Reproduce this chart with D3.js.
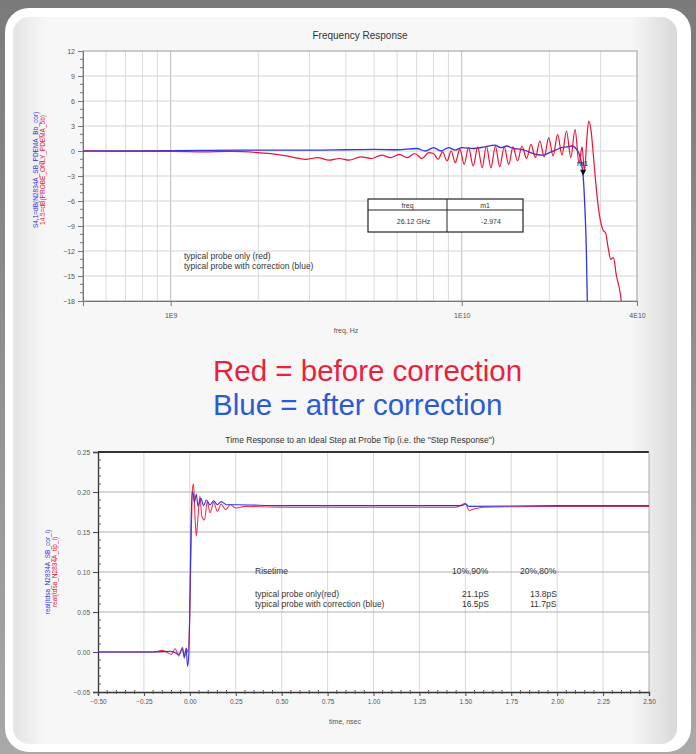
<!DOCTYPE html>
<html><head><meta charset="utf-8">
<script src="https://cdn.jsdelivr.net/npm/d3@7"></script>
<style>
html,body{margin:0;padding:0;background:#8f8f8f;}
svg{display:block;font-family:"Liberation Sans",Arial,sans-serif;}
</style></head><body>
<svg id="c" width="696" height="754"></svg>
<script>
// ---------- DATA ----------
// Top chart: frequency response (GHz, dB)
const redFreqGHz = [0.5,0.7,1.0,1.3,1.6,2.0,2.3,2.6,2.9,3.2,3.5,3.8,4.1,4.5,4.9,5.3,5.7,6.1,6.5,6.9,7.3,7.7,
  8.0,8.3,8.6,8.9,9.2,9.5,9.85,10.2,10.55,10.95,11.35,11.75,12.15,12.6,13.05,13.5,14.0,14.5,15.0,15.55,16.1,16.7,17.3,17.9,
  18.55,19.2,19.9,20.6,21.35,22.1,22.9,23.7,24.5,25.3,25.9,26.4,26.9,27.3,27.8,28.4,28.9,29.4,30.0,30.6,31.2,31.8,32.5,33.2,34.0,34.8,35.5];
const redDb = [0.0,-0.05,-0.05,-0.1,-0.05,-0.2,-0.4,-0.7,-1.0,-0.8,-1.1,-0.9,-1.1,-0.7,-0.9,-0.5,-0.8,-0.4,-0.8,-0.3,-0.9,-0.2,
  -0.3,-1.0,-0.1,-1.2,0.0,-1.4,0.2,-1.6,0.4,-1.8,0.5,-2.0,0.6,-2.0,0.6,-1.9,0.5,-1.6,0.5,-1.2,0.6,-0.9,0.8,-0.8,
  1.2,-0.7,1.6,-0.6,2.0,-0.5,2.4,-0.8,2.6,-1.5,0.5,-2.4,1.5,3.6,2.5,-1.0,-4.0,-6.5,-8.5,-9.5,-9.8,-11.5,-13.0,-12.8,-15.0,-16.5,-18.5];
const blueFreqGHz = [0.5,1,2,3,4,5,6,7,7.5,8,8.5,9,9.5,10,11,12,13,13.6,14.3,15,16,17,18,19,20,21,22,23,24,24.8,25.4,26.12,26.5,26.8,27.0,27.1];
const blueDb = [0,0.05,0.1,0.1,0.15,0.2,0.15,0.3,0.0,0.4,0.0,0.4,0.1,0.4,0.3,0.5,0.7,0.4,0.6,0.3,0.2,-0.1,-0.4,-0.5,-0.2,0.1,0.4,0.5,0.6,0.2,-0.5,-2.974,-7,-12,-18,-19];
const topYTicks = [12,9,6,3,0,-3,-6,-9,-12,-15,-18];
const topXTicks = [1e9,1e10,4e10];
const topXTickLabels = ["1E9","1E10","4E10"];
const markerFreqGHz = 26.12, markerDb = -2.974;
const markerTable = [["freq","m1"],["26.12 GHz","-2.974"]];
const topLegend = ["typical probe only (red)","typical probe with correction (blue)"];

// Bottom chart: step response (ns, V)
const redT = [-0.5,-0.3,-0.2,-0.15,-0.1,-0.08,-0.06,-0.04,-0.03,-0.02,-0.01,0.0,0.008,0.015,0.02,0.028,0.035,0.045,0.055,0.065,0.08,0.095,0.11,0.13,0.15,0.17,0.195,0.22,0.25,0.3,0.5,1.0,1.45,1.48,1.5,1.52,1.55,1.6,2.0,2.5];
const redV = [0.0,0.0,0.0,0.002,-0.003,0.004,-0.005,0.006,-0.008,0.005,0.0,0.05,0.15,0.205,0.21,0.17,0.145,0.17,0.195,0.17,0.165,0.188,0.174,0.187,0.176,0.185,0.178,0.184,0.18,0.182,0.181,0.181,0.181,0.184,0.186,0.177,0.179,0.181,0.182,0.182];
const blueT = [-0.5,-0.3,-0.2,-0.1,-0.06,-0.04,-0.03,-0.02,-0.012,-0.005,0.0,0.006,0.012,0.018,0.025,0.035,0.045,0.06,0.075,0.09,0.11,0.13,0.15,0.17,0.2,0.25,0.5,1.0,1.48,1.5,1.52,2.0,2.5];
const blueV = [0.0,0.0,0.0,0.001,-0.003,0.004,-0.006,0.004,-0.018,0.0,0.06,0.15,0.2,0.198,0.187,0.197,0.182,0.192,0.183,0.19,0.184,0.189,0.184,0.188,0.184,0.184,0.183,0.183,0.183,0.185,0.182,0.183,0.183];
const botYTicks = [0.25,0.20,0.15,0.10,0.05,0.00,-0.05];
const botXTicks = [-0.5,-0.25,0,0.25,0.5,0.75,1.0,1.25,1.5,1.75,2.0,2.25,2.5];
const riseHeader = ["Risetime","10%,90%","20%,80%"];
const riseRows = [["typical probe only(red)","21.1pS","13.8pS"],["typical probe with correction (blue)","16.5pS","11.7pS"]];

const RED = "#ee1133", BLUE = "#3232e6";

// ---------- FRAME ----------
const svg = d3.select("#c");
const defs = svg.append("defs");
const bg = defs.append("linearGradient").attr("id","bg").attr("x1",0).attr("y1",0).attr("x2",0).attr("y2",1);
bg.append("stop").attr("offset","0").attr("stop-color","#7a7a7a");
bg.append("stop").attr("offset","1").attr("stop-color","#a8a8a8");
svg.append("rect").attr("width",696).attr("height",754).attr("fill","url(#bg)");
svg.append("rect").attr("x",5).attr("y",8).attr("width",686).attr("height",744).attr("rx",24).attr("fill","#ffffff");
const inner = defs.append("linearGradient").attr("id","inner").attr("x1",0).attr("y1",0).attr("x2",1).attr("y2",0);
inner.append("stop").attr("offset","0").attr("stop-color","#e4e4e4");
inner.append("stop").attr("offset","0.05").attr("stop-color","#f7f7f7");
inner.append("stop").attr("offset","0.93").attr("stop-color","#f7f7f7");
inner.append("stop").attr("offset","1").attr("stop-color","#d8d8d8");
svg.append("rect").attr("x",13).attr("y",17).attr("width",664).attr("height",727).attr("rx",16).attr("fill","url(#inner)");

// ---------- TOP CHART ----------
const tL=83,tR=637,tT=51,tB=301;
const xT = d3.scaleLog().domain([5e8,4e10]).range([tL,tR]);
const yT = d3.scaleLinear().domain([-18,12]).range([tB,tT]);
const gT = svg.append("g");
gT.append("rect").attr("x",tL).attr("y",tT).attr("width",tR-tL).attr("height",tB-tT).attr("fill","#fff");
const logMinor = [];
[1e8,1e9,1e10].forEach(d=>{for(let k=1;k<10;k++){const v=d*k; if(v>5e8&&v<4e10) logMinor.push(v);}});
gT.append("g").selectAll("line").data(logMinor).join("line")
  .attr("x1",d=>xT(d)).attr("x2",d=>xT(d)).attr("y1",tT).attr("y2",tB)
  .attr("stroke",d=>topXTicks.includes(d)?"#bdbdbd":"#dadada").attr("stroke-width",1);
gT.append("g").selectAll("line").data(topYTicks.slice(1,-1)).join("line")
  .attr("x1",tL).attr("x2",tR).attr("y1",d=>yT(d)).attr("y2",d=>yT(d))
  .attr("stroke","#d3d3d3");
gT.append("rect").attr("x",tL).attr("y",tT).attr("width",tR-tL).attr("height",tB-tT).attr("fill","none").attr("stroke","#9a9a9a");
const yAxT = gT.append("g").attr("transform",`translate(${tL},0)`)
  .call(d3.axisLeft(yT).tickValues(topYTicks).tickSize(5).tickFormat(d3.format("d")));
const yMinT = d3.range(-18,13,1).filter(v=>!topYTicks.includes(v));
gT.append("g").selectAll("line").data(yMinT).join("line")
  .attr("x1",tL-3).attr("x2",tL).attr("y1",d=>yT(d)).attr("y2",d=>yT(d)).attr("stroke","#777");
const xAxT = gT.append("g").attr("transform",`translate(0,${tB})`)
  .call(d3.axisBottom(xT).tickValues(topXTicks).tickSize(5).tickFormat((d,i)=>topXTickLabels[i]));
[yAxT,xAxT].forEach(a=>{a.select(".domain").attr("stroke","#777");a.selectAll(".tick line").attr("stroke","#777");
  a.selectAll("text").attr("fill","#555").attr("font-size",7);});
xAxT.selectAll("text").attr("dy","1.3em");
gT.append("text").attr("x",(tL+tR)/2).attr("y",39).attr("text-anchor","middle").attr("font-size",10).attr("fill","#333").text("Frequency Response");
gT.append("text").attr("x",346).attr("y",333).attr("text-anchor","middle").attr("font-size",7).attr("fill","#555").text("freq, Hz");
gT.append("text").attr("transform","translate(38,170) rotate(-90)").attr("text-anchor","middle").attr("font-size",6.5).attr("fill",BLUE).text("S4,1=dB(N2834A_SB_PDEMA_Bb_cor)");
gT.append("text").attr("transform","translate(45,170) rotate(-90)").attr("text-anchor","middle").attr("font-size",6.5).attr("fill",RED).text("14.5=dB(PROBE_ONLY_PDEMA_5b)");
defs.append("clipPath").attr("id","clipT").append("rect").attr("x",tL).attr("y",tT).attr("width",tR-tL).attr("height",tB-tT);
const lineT = d3.line().x(d=>xT(d[0]*1e9)).y(d=>yT(d[1])).curve(d3.curveMonotoneX);
gT.append("path").attr("clip-path","url(#clipT)").attr("d",lineT(blueFreqGHz.map((f,i)=>[f,blueDb[i]])))
  .attr("fill","none").attr("stroke",BLUE).attr("stroke-width",1.3);
gT.append("path").attr("clip-path","url(#clipT)").attr("d",lineT(redFreqGHz.map((f,i)=>[f,redDb[i]])))
  .attr("fill","none").attr("stroke",RED).attr("stroke-width",1.2);
const mx = xT(markerFreqGHz*1e9), my = yT(markerDb);
gT.append("path").attr("d",`M${mx-3},${my-6}L${mx+3},${my-6}L${mx},${my}Z`).attr("fill","#111");
gT.append("text").attr("x",mx-6).attr("y",my-10).attr("font-size",8).attr("fill","#222").text("m1");
const tbx=368,tby=199,tbw=155,tbh=33,tbdiv=447;
const tb = gT.append("g");
tb.append("rect").attr("x",tbx).attr("y",tby).attr("width",tbw).attr("height",tbh).attr("fill","#fff").attr("stroke","#222").attr("stroke-width",1.2);
tb.append("line").attr("x1",tbx).attr("x2",tbx+tbw).attr("y1",tby+11).attr("y2",tby+11).attr("stroke","#222");
tb.append("line").attr("x1",tbdiv).attr("x2",tbdiv).attr("y1",tby).attr("y2",tby+tbh).attr("stroke","#222");
tb.append("text").attr("x",(tbx+tbdiv)/2).attr("y",tby+8.5).attr("text-anchor","middle").attr("font-size",7).attr("fill","#333").text(markerTable[0][0]);
tb.append("text").attr("x",(tbdiv+tbx+tbw)/2).attr("y",tby+8.5).attr("text-anchor","middle").attr("font-size",7).attr("fill","#333").text(markerTable[0][1]);
tb.append("text").attr("x",(tbx+tbdiv)/2+6).attr("y",tby+25).attr("text-anchor","middle").attr("font-size",7).attr("fill","#333").text(markerTable[1][0]);
tb.append("text").attr("x",(tbdiv+tbx+tbw)/2+6).attr("y",tby+25).attr("text-anchor","middle").attr("font-size",7).attr("fill","#333").text(markerTable[1][1]);
topLegend.forEach((t,i)=>gT.append("text").attr("x",184).attr("y",259+i*10).attr("font-size",8.5).attr("fill","#333").text(t));

// ---------- MIDDLE TEXT ----------
svg.append("text").attr("x",213).attr("y",381).attr("font-size",29.5).attr("fill","#ec1f3d").text("Red = before correction");
svg.append("text").attr("x",213).attr("y",415).attr("font-size",29.5).attr("fill","#2a5bd7").text("Blue = after correction");

// ---------- BOTTOM CHART ----------
const bL=98,bR=649,bT=452,bB=692;
const xB = d3.scaleLinear().domain([-0.5,2.5]).range([bL,bR]);
const yB = d3.scaleLinear().domain([-0.05,0.25]).range([bB,bT]);
const gB = svg.append("g");
gB.append("rect").attr("x",bL).attr("y",bT).attr("width",bR-bL).attr("height",bB-bT).attr("fill","#fff");
gB.append("g").selectAll("line").data(botXTicks.slice(1,-1)).join("line")
  .attr("x1",d=>xB(d)).attr("x2",d=>xB(d)).attr("y1",bT).attr("y2",bB).attr("stroke","#d8d8d8");
gB.append("g").selectAll("line").data(botYTicks.slice(1,-1)).join("line")
  .attr("x1",bL).attr("x2",bR).attr("y1",d=>yB(d)).attr("y2",d=>yB(d)).attr("stroke","#b0b0b0");
gB.append("line").attr("x1",bL).attr("x2",bR).attr("y1",bT).attr("y2",bT).attr("stroke","#333").attr("stroke-width",2);
gB.append("line").attr("x1",bR).attr("x2",bR).attr("y1",bT).attr("y2",bB).attr("stroke","#aaa");
const yAxB = gB.append("g").attr("transform",`translate(${bL},0)`)
  .call(d3.axisLeft(yB).tickValues(botYTicks).tickSize(5).tickFormat(d3.format(".2f")));
const yMinB = d3.range(-5,26,1).map(v=>v/100).filter(v=>!botYTicks.some(t=>Math.abs(t-v)<1e-9));
gB.append("g").selectAll("line").data(yMinB).join("line")
  .attr("x1",bL).attr("x2",bL+3).attr("y1",d=>yB(d)).attr("y2",d=>yB(d)).attr("stroke","#555");
const xAxB = gB.append("g").attr("transform",`translate(0,${bB})`)
  .call(d3.axisBottom(xB).tickValues(botXTicks).tickSize(4).tickFormat(d3.format(".2f")));
const xMinB = d3.range(-50,251,5).map(v=>v/100).filter(v=>!botXTicks.some(t=>Math.abs(t-v)<1e-9));
gB.append("g").selectAll("line").data(xMinB).join("line")
  .attr("x1",d=>xB(d)).attr("x2",d=>xB(d)).attr("y1",bB-2).attr("y2",bB+2).attr("stroke","#555");
[yAxB,xAxB].forEach(a=>{a.select(".domain").attr("stroke","#333").attr("stroke-width",1.3);a.selectAll(".tick line").attr("stroke","#444");
  a.selectAll("text").attr("fill","#555").attr("font-size",6.5);});
gB.append("text").attr("x",360).attr("y",443).attr("text-anchor","middle").attr("font-size",8.5).attr("fill","#333")
  .text("Time Response to an Ideal Step at Probe Tip (i.e. the \"Step Response\")");
gB.append("text").attr("x",345).attr("y",724).attr("text-anchor","middle").attr("font-size",7).attr("fill","#555").text("time, nsec");
gB.append("text").attr("transform","translate(50,572) rotate(-90)").attr("text-anchor","middle").attr("font-size",6.5).attr("fill",BLUE).text("real(tdsa_N2834A_SB_cor_i)");
gB.append("text").attr("transform","translate(57,572) rotate(-90)").attr("text-anchor","middle").attr("font-size",6.5).attr("fill",RED).text("real(tdsa_N2834A_tip_i)");
defs.append("clipPath").attr("id","clipB").append("rect").attr("x",bL).attr("y",bT).attr("width",bR-bL).attr("height",bB-bT);
const lineB = d3.line().x(d=>xB(d[0])).y(d=>yB(d[1])).curve(d3.curveMonotoneX);
gB.append("path").attr("clip-path","url(#clipB)").attr("d",lineB(redT.map((t,i)=>[t,redV[i]])))
  .attr("fill","none").attr("stroke",RED).attr("stroke-width",1.1).attr("opacity",0.85);
gB.append("path").attr("clip-path","url(#clipB)").attr("d",lineB(blueT.map((t,i)=>[t,blueV[i]])))
  .attr("fill","none").attr("stroke",BLUE).attr("stroke-width",1.1);
const colX=[255,452,520], rowY=[574,597,607];
riseHeader.forEach((t,i)=>gB.append("text").attr("x",colX[i]).attr("y",rowY[0]).attr("font-size",8.5).attr("fill","#333").text(t));
riseRows.forEach((r,j)=>r.forEach((t,i)=>gB.append("text").attr("x",colX[i]+(i>0?10:0)).attr("y",rowY[j+1]).attr("font-size",8.5).attr("fill","#333").text(t)));
</script></body></html>
